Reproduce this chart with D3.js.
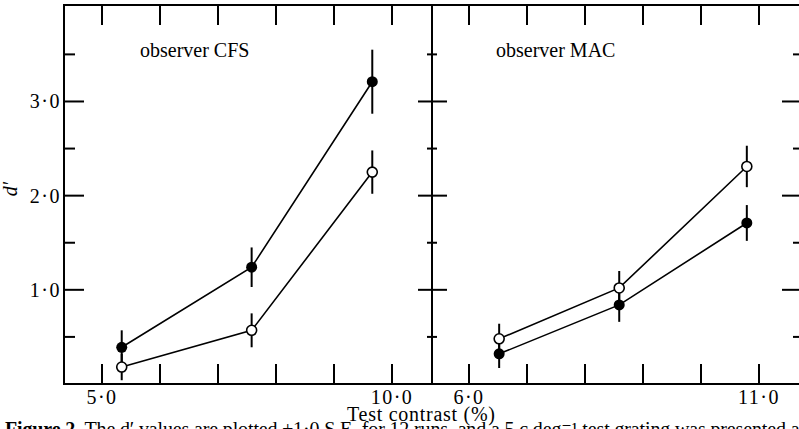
<!DOCTYPE html>
<html>
<head>
<meta charset="utf-8">
<script src="https://cdn.jsdelivr.net/npm/d3@7.9.0/dist/d3.min.js"></script>
<style>
  html, body { margin: 0; padding: 0; background: #fff; overflow: hidden; }
  svg { display: block; font-family: "Liberation Serif", "DejaVu Serif", serif; }
</style>
</head>
<body>
<svg id="chart" width="799" height="429"></svg>
<script>
// data
const cfsContrast = [5.34, 7.58, 9.66];
const cfsFilled = [0.39, 1.24, 3.21];
const cfsFilledErr = [0.18, 0.21, 0.34];
const cfsOpen = [0.18, 0.57, 2.25];
const cfsOpenErr = [0.14, 0.18, 0.23];

const macContrast = [6.52, 8.59, 10.79];
const macOpen = [0.48, 1.02, 2.31];
const macOpenErr = [0.16, 0.18, 0.22];
const macFilled = [0.32, 0.84, 1.71];
const macFilledErr = [0.15, 0.18, 0.19];

const yMajor = [1, 2, 3];
const yMinor = [0.5, 1.5, 2.5, 3.5];
const yLabels = ['1·0', '2·0', '3·0'];
const cfsTicks = [5, 6, 7, 8, 9, 10];
const macTicks = [6, 7, 8, 9, 10, 11];

const svg = d3.select('#chart');
const frameTop = 5, frameBottom = 384;
const leftX = 64, midX = 432, rightX = 803;

const y = d3.scaleLinear().domain([0, 4]).range([384, 7.3]);
const xL = d3.scaleLinear().domain([5, 10]).range([102, 392]);
const xR = d3.scaleLinear().domain([6, 11]).range([469, 759]);

// frame
const frame = svg.append('g').attr('stroke', '#000').attr('stroke-width', 2).attr('fill', 'none');
frame.append('rect').attr('x', leftX).attr('y', frameTop)
  .attr('width', rightX - leftX).attr('height', frameBottom - frameTop);
frame.append('line').attr('x1', midX).attr('x2', midX).attr('y1', frameTop).attr('y2', frameBottom);

// y ticks on the three vertical edges
function yTicks(vals, x1, x2) {
  vals.forEach(v => {
    frame.append('line').attr('x1', x1).attr('x2', x2)
      .attr('y1', y(v)).attr('y2', y(v));
  });
}
yTicks(yMajor, leftX, leftX + 20);
yTicks(yMinor, leftX, leftX + 11);
yTicks(yMajor, midX - 14, midX + 15);
yTicks(yMinor, midX - 5, midX + 5);
yTicks(yMajor, rightX - 21, rightX);
yTicks(yMinor, rightX - 10, rightX);

// x ticks, top and bottom, pointing inward
function xTicks(scale, vals) {
  vals.forEach(v => {
    frame.append('line').attr('x1', scale(v)).attr('x2', scale(v))
      .attr('y1', frameBottom).attr('y2', frameBottom - 20);
    frame.append('line').attr('x1', scale(v)).attr('x2', scale(v))
      .attr('y1', frameTop).attr('y2', frameTop + 20);
  });
}
xTicks(xL, cfsTicks);
xTicks(xR, macTicks);

// labels
const txt = svg.append('g').attr('fill', '#000').attr('font-size', 20);
yMajor.forEach((v, i) => {
  txt.append('text').attr('x', 61).attr('y', y(v) + 7)
    .attr('text-anchor', 'end').attr('letter-spacing', 1.5).text(yLabels[i]);
});
[[xL, 5, '5·0'], [xL, 10, '10·0'], [xR, 6, '6·0'], [xR, 11, '11·0']].forEach(([s, v, t]) => {
  txt.append('text').attr('x', s(v)).attr('y', 404)
    .attr('text-anchor', 'middle').attr('letter-spacing', 1.5).text(t);
});
txt.append('text').attr('x', 421).attr('y', 421).attr('text-anchor', 'middle')
  .attr('font-size', 20).attr('textLength', 148).text('Test contrast (%)');
txt.append('text').attr('transform', 'translate(17,189) rotate(-90)')
  .attr('text-anchor', 'middle').attr('font-style', 'italic').text('d′');
txt.append('text').attr('x', 140).attr('y', 57).text('observer CFS');
txt.append('text').attr('x', 496).attr('y', 57).text('observer MAC');

// caption, cut off by the bottom edge as in the scan
const cap = txt.append('text').attr('x', 5).attr('y', 436).attr('textLength', 800)
  .attr('lengthAdjust', 'spacing');
cap.append('tspan').attr('font-weight', 'bold').text('Figure 2.');
cap.append('tspan').text('  The d′ values are plotted ±1·0 S.E. for 12 runs, and a 5 c deg⁻¹ test grating was presented at');

// series
function drawSeries(xs, ys, errs, scale, filled) {
  const g = svg.append('g');
  xs.forEach((xv, i) => {
    g.append('line').attr('x1', scale(xv)).attr('x2', scale(xv))
      .attr('y1', y(ys[i] - errs[i])).attr('y2', y(ys[i] + errs[i]))
      .attr('stroke', '#000').attr('stroke-width', 2);
  });
  const line = d3.line().x(d => scale(d[0])).y(d => y(d[1]));
  g.append('path').datum(xs.map((xv, i) => [xv, ys[i]]))
    .attr('d', line).attr('fill', 'none').attr('stroke', '#000').attr('stroke-width', 1.6);
  xs.forEach((xv, i) => {
    g.append('circle').attr('cx', scale(xv)).attr('cy', y(ys[i]))
      .attr('r', filled ? 5.5 : 5)
      .attr('fill', filled ? '#000' : '#fff')
      .attr('stroke', '#000').attr('stroke-width', filled ? 0 : 1.6);
  });
}
drawSeries(cfsContrast, cfsFilled, cfsFilledErr, xL, true);
drawSeries(cfsContrast, cfsOpen, cfsOpenErr, xL, false);
drawSeries(macContrast, macFilled, macFilledErr, xR, true);
drawSeries(macContrast, macOpen, macOpenErr, xR, false);
</script>
</body>
</html>
